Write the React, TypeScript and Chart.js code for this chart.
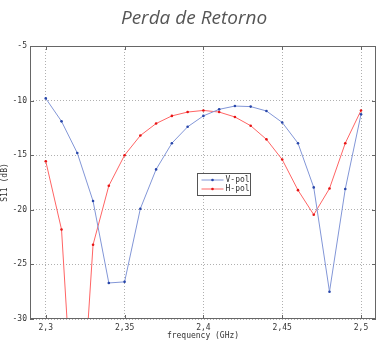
import React, { useEffect, useRef } from "react";
import { Chart, registerables } from "chart.js";

Chart.register(...registerables);

const freqs = [2.3, 2.31, 2.32, 2.33, 2.34, 2.35, 2.36, 2.37, 2.38, 2.39, 2.4, 2.41, 2.42, 2.43, 2.44, 2.45, 2.46, 2.47, 2.48, 2.49, 2.5];
const vPol = [-9.8, -11.9, -14.8, -19.2, -26.7, -26.6, -19.9, -16.3, -13.9, -12.4, -11.4, -10.8, -10.5, -10.55, -10.95, -12.0, -13.9, -17.95, -27.5, -18.1, -11.25];
const hPol = [-15.55, -21.8, -45.5, -23.2, -17.8, -15.0, -13.2, -12.1, -11.4, -11.05, -10.9, -11.05, -11.5, -12.3, -13.55, -15.4, -18.2, -20.45, -18.05, -13.9, -10.9];
const xTicks = [2.3, 2.35, 2.4, 2.45, 2.5];
const yTicks = [-30, -25, -20, -15, -10, -5];
const titleText = "Perda de Retorno";
const xTitle = "frequency (GHz)";
const yTitle = "S11 (dB)";
const seriesNames = ["V-pol", "H-pol"];

const BLUE_LINE = "rgb(130,150,215)";
const BLUE_PT = "rgb(40,70,170)";
const RED_LINE = "rgb(255,100,100)";
const RED_PT = "rgb(230,20,20)";
const MONO = "'DejaVu Sans Mono', monospace";

const decorPlugin = {
  id: "decor",
  afterDraw(chart: any) {
    const { ctx, chartArea } = chart;
    ctx.save();
    ctx.fillStyle = "#555";
    ctx.font = "italic 19px 'Open Sans', sans-serif";
    ctx.textAlign = "center";
    ctx.textBaseline = "middle";
    ctx.fillText(titleText, 194, 19);
    ctx.strokeStyle = "#666";
    ctx.lineWidth = 1;
    ctx.strokeRect(chartArea.left + 0.5, chartArea.top + 0.5, chartArea.right - chartArea.left - 1, chartArea.bottom - chartArea.top - 1);
    const xs = chart.scales.x;
    const ys = chart.scales.y;
    ctx.beginPath();
    xs.ticks.forEach((t: any) => {
      const px = Math.round(xs.getPixelForValue(t.value)) + 0.5;
      ctx.moveTo(px, chartArea.bottom);
      ctx.lineTo(px, chartArea.bottom - 4);
      ctx.moveTo(px, chartArea.top);
      ctx.lineTo(px, chartArea.top + 4);
    });
    ys.ticks.forEach((t: any) => {
      const py = Math.round(ys.getPixelForValue(t.value)) + 0.5;
      ctx.moveTo(chartArea.left, py);
      ctx.lineTo(chartArea.left + 4, py);
      ctx.moveTo(chartArea.right, py);
      ctx.lineTo(chartArea.right - 4, py);
    });
    ctx.stroke();
    const lx = 197.5, ly = 173.5, lw = 53, lh = 22;
    ctx.fillStyle = "#fff";
    ctx.fillRect(lx, ly, lw, lh);
    ctx.strokeStyle = "#555";
    ctx.strokeRect(lx, ly, lw, lh);
    ctx.font = "8px " + MONO;
    ctx.textAlign = "left";
    ctx.textBaseline = "middle";
    chart.data.datasets.forEach((ds: any, i: number) => {
      const yy = ly + 6.5 + i * 9;
      ctx.strokeStyle = ds.borderColor;
      ctx.lineWidth = 1;
      ctx.beginPath();
      ctx.moveTo(lx + 4, yy);
      ctx.lineTo(lx + 26, yy);
      ctx.stroke();
      ctx.fillStyle = ds.pointBackgroundColor;
      ctx.beginPath();
      ctx.arc(lx + 15, yy, 1.3, 0, Math.PI * 2);
      ctx.fill();
      ctx.fillStyle = "#333";
      ctx.fillText(ds.label, lx + 28, yy);
    });
    ctx.restore();
  },
};

export default function App() {
  const ref = useRef<HTMLCanvasElement>(null);
  useEffect(() => {
    if (!ref.current) return;
    const chart = new Chart(ref.current, {
      type: "line",
      data: {
        datasets: [
          {
            label: seriesNames[0],
            data: freqs.map((f, i) => ({ x: f, y: vPol[i] })),
            borderColor: BLUE_LINE,
            backgroundColor: BLUE_PT,
            pointBackgroundColor: BLUE_PT,
            pointBorderColor: BLUE_PT,
            pointRadius: 1.3,
            pointBorderWidth: 0,
            borderWidth: 1,
            tension: 0,
          },
          {
            label: seriesNames[1],
            data: freqs.map((f, i) => ({ x: f, y: hPol[i] })),
            borderColor: RED_LINE,
            backgroundColor: RED_PT,
            pointBackgroundColor: RED_PT,
            pointBorderColor: RED_PT,
            pointRadius: 1.3,
            pointBorderWidth: 0,
            borderWidth: 1,
            tension: 0,
          },
        ],
      },
      options: {
        animation: false,
        responsive: false,
        maintainAspectRatio: false,
        layout: { padding: { top: 46, right: 4, left: 0, bottom: 0 } },
        plugins: { legend: { display: false }, title: { display: false }, tooltip: { enabled: false } },
        scales: {
          x: {
            type: "linear",
            min: 2.29,
            max: 2.5095,
            afterBuildTicks: (s: any) => {
              s.ticks = xTicks.map((v) => ({ value: v }));
            },
            afterFit: (s: any) => {
              s.height = 22;
            },
            grid: { color: "#b0b0b0", drawTicks: false } as any,
            border: { display: false, dash: [1, 2] },
            ticks: {
              font: { family: MONO, size: 8 },
              color: "#333",
              padding: 4,
              maxRotation: 0,
              callback: (v: any) => String(Number(v)).replace(".", ","),
            },
            title: { display: true, text: xTitle, font: { family: MONO, size: 8 }, color: "#333", padding: 0 },
          },
          y: {
            min: -30,
            max: -5,
            afterBuildTicks: (s: any) => {
              s.ticks = yTicks.map((v) => ({ value: v }));
            },
            afterFit: (s: any) => {
              s.width = 30;
            },
            grid: { color: "#b0b0b0", drawTicks: false } as any,
            border: { display: false, dash: [1, 2] },
            ticks: {
              font: { family: MONO, size: 8 },
              color: "#333",
              padding: 3,
            },
            title: { display: true, text: yTitle, font: { family: MONO, size: 8 }, color: "#333", padding: 0 },
          },
        },
      },
      plugins: [decorPlugin],
    });
    return () => chart.destroy();
  }, []);
  return (
    <div style={{ position: "absolute", left: 0, top: 0, width: 380, height: 341, background: "#fff" }}>
      <canvas ref={ref} width={380} height={341} style={{ width: 380, height: 341 }} />
    </div>
  );
}
